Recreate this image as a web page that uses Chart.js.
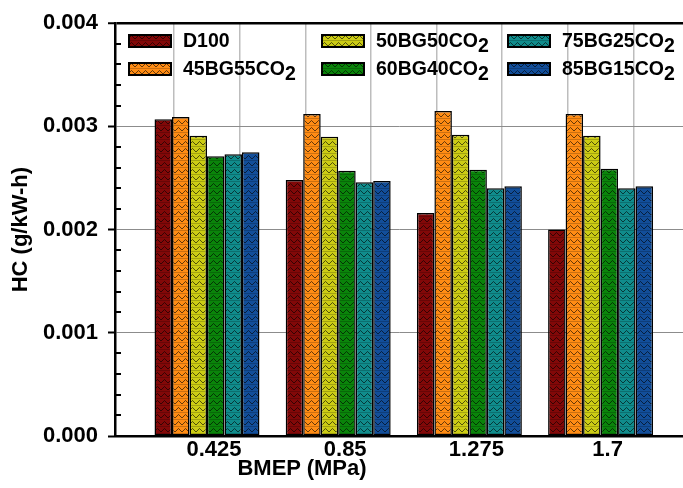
<!DOCTYPE html>
<html><head><meta charset="utf-8">
<script src="https://cdn.jsdelivr.net/npm/chart.js@4.4.1/dist/chart.umd.min.js"></script>
<style>
body{margin:0;background:#fff;}
#wrap{position:relative;width:683px;height:488px;}
#legend{position:absolute;left:0;top:0;width:683px;height:100px;pointer-events:none;font-family:"Liberation Sans",Arial,sans-serif;font-weight:bold;font-size:19.5px;color:#000;}
.item{position:absolute;display:flex;align-items:center;white-space:nowrap;}
.item canvas{display:block;margin-right:11px;}
.item sub{font-size:100%;vertical-align:baseline;position:relative;top:5px;}
#xtitle{position:absolute;left:302px;top:468px;transform:translate(-50%,-50%);font-family:"Liberation Sans",Arial,sans-serif;font-weight:bold;font-size:22px;color:#000;white-space:nowrap;}
</style>
</head><body>
<div id="wrap"><canvas id="c" width="683" height="488"></canvas><div id="legend"></div><div id="xtitle"></div></div>
<script>
// ---- data ----
const bmep = [0.425, 0.85, 1.275, 1.7];
const xLabels = ['0.425', '0.85', '1.275', '1.7'];
const xTitle = 'BMEP (MPa)';
const yTitle = 'HC (g/kW-h)';
const seriesNames = ['D100', '45BG55CO2', '50BG50CO2', '60BG40CO2', '75BG25CO2', '85BG15CO2'];
const D100   = [0.00307, 0.00248, 0.00216, 0.00200];
const BG45   = [0.00309, 0.00312, 0.00315, 0.00312];
const BG50   = [0.00291, 0.00290, 0.00292, 0.00291];
const BG60   = [0.00271, 0.00257, 0.00258, 0.00259];
const BG75   = [0.00273, 0.00246, 0.00240, 0.00240];
const BG85   = [0.00275, 0.00247, 0.00242, 0.00242];
const yTicks = [0, 0.001, 0.002, 0.003, 0.004];
const yMinorTicks = [0.0002,0.0004,0.0006,0.0008,0.0012,0.0014,0.0016,0.0018,0.0022,0.0024,0.0026,0.0028,0.0032,0.0034,0.0036,0.0038];
const xGridTicks = [0.2125, 0.425, 0.6375, 0.85, 1.0625, 1.275, 1.4875, 1.7, 1.9125];
const seriesValues = [D100, BG45, BG50, BG60, BG75, BG85];
const seriesColors = ['#820808', '#ff8c14', '#cccc14', '#0a840a', '#108c8c', '#124e9a'];

// ---- patterns ----
function makePatternCanvas(color){
  const c = document.createElement('canvas'); c.width = 7; c.height = 7;
  const g = c.getContext('2d');
  g.fillStyle = color; g.fillRect(0,0,7,7);
  g.strokeStyle = 'rgba(0,0,0,0.6)'; g.lineWidth = 1;
  g.beginPath(); g.moveTo(-0.5,5.5); g.lineTo(3.5,1.5); g.lineTo(7.5,5.5); g.stroke();
  g.fillStyle = 'rgba(0,0,0,0.2)';
  g.fillRect(0,6,7,1);
  return c;
}
const mainCtx = document.getElementById('c').getContext('2d');
const patterns = seriesColors.map(col => mainCtx.createPattern(makePatternCanvas(col), 'repeat'));

// ---- legend ----
const legendPos = [[128,29],[128,57],[321,29],[321,57],[507,29],[507,57]];
const legend = document.getElementById('legend');
seriesNames.forEach((name,i)=>{
  const d = document.createElement('div'); d.className='item';
  d.style.left = legendPos[i][0]+'px'; d.style.top = legendPos[i][1]+'px';
  const sw = document.createElement('canvas'); sw.width=44; sw.height=14;
  const g = sw.getContext('2d');
  g.fillStyle = g.createPattern(makePatternCanvas(seriesColors[i]),'repeat');
  g.fillRect(0,0,44,14);
  g.strokeStyle='#000'; g.lineWidth=2; g.strokeRect(1,1,42,12);
  d.appendChild(sw);
  const t = document.createElement('span');
  if (name.endsWith('CO2')) { t.innerHTML = name.slice(0,-1) + '<sub>2</sub>'; }
  else t.textContent = name;
  d.appendChild(t);
  legend.appendChild(d);
});
document.getElementById('xtitle').textContent = xTitle;

// ---- minor ticks plugin ----
const minorTicks = {
  id:'minorTicks',
  afterDraw(chart){
    const y = chart.scales.y, ctx = chart.ctx, left = chart.chartArea.left;
    ctx.save(); ctx.strokeStyle='#000'; ctx.lineWidth=2;
    yMinorTicks.forEach(v=>{
      const p = Math.round(y.getPixelForValue(v));
      ctx.beginPath(); ctx.moveTo(left, p); ctx.lineTo(left+6, p); ctx.stroke();
    });
    ctx.restore();
  }
};

const FONT = {family:'"Liberation Sans", Arial, sans-serif', weight:'bold', size:22};

new Chart(mainCtx, {
  type:'bar',
  data:{
    datasets: seriesNames.map((n,i)=>({
      label:n,
      data: bmep.map((x,j)=>({x:x, y:seriesValues[i][j]})),
      backgroundColor: patterns[i],
      borderColor:'#000',
      borderWidth:1.5,
      borderSkipped:false,
      categoryPercentage:1.6,
      barPercentage:1.0
    }))
  },
  options:{
    responsive:false,
    animation:false,
    layout:{padding:{top:17,right:0,left:0,bottom:0}},
    plugins:{legend:{display:false}, tooltip:{enabled:false}},
    scales:{
      x:{
        type:'linear', min:0.127, max:1.967, offset:false,
        afterBuildTicks(s){ s.ticks = xGridTicks.map(v=>({value:v})); },
        afterFit(s){ s.height = 52; },
        ticks:{
          autoSkip:false, maxRotation:0, padding:1, labelOffset:7, color:'#000', font:FONT,
          callback(v){ const i = bmep.findIndex(b=>Math.abs(b-v)<1e-6); return i>=0 ? xLabels[i] : ''; }
        },
        grid:{color:'#bdbdbd', lineWidth:1.5, drawTicks:false},
        border:{display:true, color:'#000', width:2.5},
        title:{display:false}
      },
      y:{
        min:0, max:0.004,
        afterBuildTicks(s){ s.ticks = yTicks.map(v=>({value:v})); },
        afterFit(s){ s.width = 115; },
        ticks:{padding:10, color:'#000', font:FONT, callback(v){ return v.toFixed(3); }},
        grid:{
          color(c){ return (c.tick && (c.tick.value===0.004)) ? '#000' : '#8c8c8c'; },
          lineWidth(c){ return (c.tick && (c.tick.value===0.004)) ? 2.5 : 1; },
          tickColor:'#000', tickWidth:2, tickLength:7
        },
        border:{display:true, color:'#000', width:2.5},
        title:{display:true, text:yTitle, color:'#000', font:FONT, padding:{top:8,bottom:0}}
      }
    }
  },
  plugins:[minorTicks]
});
</script>
</body></html>
